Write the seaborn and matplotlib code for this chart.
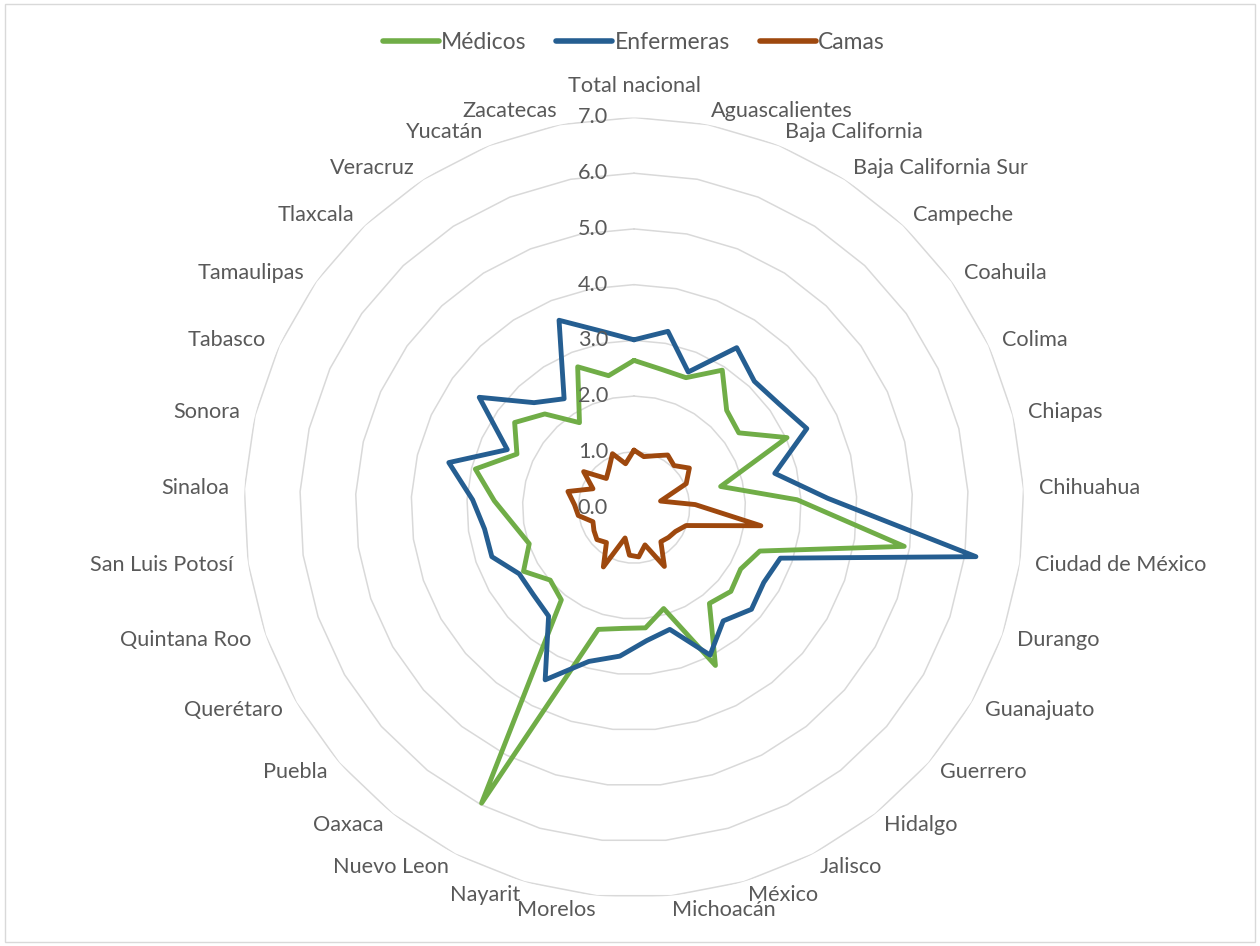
"""Radar chart: médicos, enfermeras y camas por entidad federativa."""

import matplotlib

matplotlib.use("Agg")

import matplotlib.pyplot as plt
import numpy as np
import pandas as pd
import seaborn as sns
from matplotlib.lines import Line2D
from matplotlib.patches import Rectangle

estados = [
    "Total nacional", "Aguascalientes", "Baja California", "Baja California Sur",
    "Campeche", "Coahuila", "Colima", "Chiapas", "Chihuahua", "Ciudad de México",
    "Durango", "Guanajuato", "Guerrero", "Hidalgo", "Jalisco", "México",
    "Michoacán", "Morelos", "Nayarit", "Nuevo Leon", "Oaxaca", "Puebla",
    "Querétaro", "Quintana Roo", "San Luis Potosí", "Sinaloa", "Sonora",
    "Tabasco", "Tamaulipas", "Tlaxcala", "Veracruz", "Yucatán", "Zacatecas",
]
medicos = [
    2.64, 2.53, 2.51, 2.93, 2.41, 2.31, 3.02, 1.60, 2.93, 4.90, 2.39,
    2.21, 2.30, 2.19, 3.19, 1.89, 2.17, 2.18, 2.28, 5.97, 2.11, 1.99,
    2.29, 1.99, 2.18, 2.51, 2.93, 2.31, 2.63, 2.32, 1.81, 2.72, 2.41,
]
enfermeras = [
    3.01, 3.22, 2.62, 3.41, 3.13, 3.20, 3.41, 2.60, 3.48, 6.20, 2.78,
    2.69, 2.79, 2.59, 2.98, 2.28, 2.40, 2.68, 2.88, 3.48, 2.48, 2.39,
    2.38, 2.70, 2.71, 2.90, 3.42, 2.50, 3.41, 2.60, 2.32, 3.62, 3.23,
]
camas = [
    1.03, 0.93, 1.00, 1.12, 1.04, 1.22, 1.03, 0.49, 1.10, 2.30, 0.99,
    0.86, 0.82, 0.78, 1.19, 0.70, 0.89, 0.86, 0.57, 1.20, 0.80, 0.88,
    0.83, 0.78, 1.01, 1.07, 1.22, 0.81, 1.11, 0.72, 0.83, 1.04, 0.80,
]
series = ["Médicos", "Enfermeras", "Camas"]
colores = ["#70AD47", "#255E91", "#9E480E"]
radial_ticks = [0, 1, 2, 3, 4, 5, 6, 7]

TEXT = "#595959"
GRID = "#D9D9D9"
FS = 15.6
PX = 72 / 100  # points per pixel at dpi 100

sns.set_theme(style="white")
plt.rcParams["font.family"] = ["Lato", "DejaVu Sans"]

n = len(estados)
angles = np.linspace(0, 2 * np.pi, n, endpoint=False)
closed = np.append(angles, 2 * np.pi)

frames = []
for name, vals in zip(series, [medicos, enfermeras, camas]):
    frames.append(pd.DataFrame({
        "theta": closed,
        "valor": list(vals) + [vals[0]],
        "serie": name,
    }))
df = pd.concat(frames, ignore_index=True)

fig = plt.figure(figsize=(12.6, 9.46), dpi=100)
cx, cy, rad = 634 / 1260, 1 - 507.5 / 946, 390
ax = fig.add_axes([cx - rad / 1260, cy - rad / 946, 2 * rad / 1260, 2 * rad / 946],
                  projection="polar")
ax.set_theta_zero_location("N")
ax.set_theta_direction(-1)

# polygon grid like excel radar
for r in radial_ticks[1:]:
    ax.plot(closed, [r] * (n + 1), color=GRID, lw=1.1, zorder=0)

sns.lineplot(data=df, x="theta", y="valor", hue="serie", hue_order=series,
             palette=colores, sort=False, estimator=None, linewidth=3.5,
             legend=False, ax=ax)

ax.set_ylim(0, 7)
ax.grid(False)
ax.set_xticks([])
ax.set_yticks([])
ax.spines["polar"].set_visible(False)
ax.set_xlabel("")
ax.set_ylabel("")

for r in radial_ticks:
    ax.annotate(f"{r:.1f}", xy=(0, r), xytext=(-26 * PX, 0), textcoords="offset points",
                ha="right", va="center", fontsize=FS, color=TEXT)

for name, th in zip(estados, angles):
    a = np.pi / 2 - th
    c, s = np.cos(a), np.sin(a)
    if abs(c) < 0.05:
        ha = "center"
        dx, dy = 0, 31 * np.sign(s)
    else:
        ha = "left" if c > 0 else "right"
        dx, dy = 15 * c, 14 * s
    ax.annotate(name, xy=(th, 7.0), xytext=(dx * PX, dy * PX), textcoords="offset points",
                ha=ha, va="center", fontsize=FS, color=TEXT, annotation_clip=False)

handles = [Line2D([0], [0], color=col, lw=4, solid_capstyle="round") for col in colores]
fig.legend(handles, series, loc="center", bbox_to_anchor=(0.503, 0.955), ncol=3,
           frameon=False, fontsize=16.5, labelcolor=TEXT, handlelength=2.45,
           handletextpad=0.1, columnspacing=1.3)

fig.patches.append(Rectangle((0.004, 0.004), 0.992, 0.992, transform=fig.transFigure,
                             fill=False, edgecolor=GRID, lw=1.0))

fig.savefig("out.png", dpi=100, facecolor="white")
